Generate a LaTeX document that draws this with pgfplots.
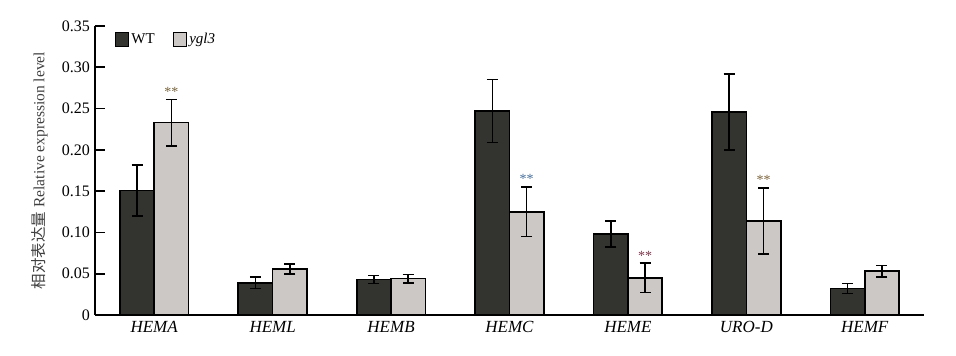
\documentclass[border=0pt]{standalone}
\usepackage{pgfplots}
\pgfplotsset{compat=1.18}
\usepackage{fontspec}
\setmainfont{Liberation Serif}
\newfontfamily\cjk{Noto Sans CJK SC}
\definecolor{wtc}{RGB}{51,51,48}
\definecolor{ygc}{RGB}{204,200,197}
\definecolor{astA}{RGB}{120,100,60}
\definecolor{astC}{RGB}{70,110,155}
\definecolor{astE}{RGB}{125,55,75}
\definecolor{astD}{RGB}{125,100,60}
\begin{document}
\fontsize{15bp}{17bp}\selectfont
\begin{tikzpicture}
\begin{axis}[
  scale only axis,
  width=829bp, height=289bp,
  xmin=-0.5, xmax=6.5,
  ymin=0, ymax=0.35,
  axis x line*=bottom, axis y line*=left,
  axis line style={line width=1.8bp},
  ytick={0,0.05,0.10,0.15,0.20,0.25,0.30,0.35},
  yticklabels={0,0.05,0.10,0.15,0.20,0.25,0.30,0.35},
  y tick label style={font=\fontsize{16bp}{18bp}\selectfont},
  xtick={0,1,2,3,4,5,6},
  xticklabels={\textit{HEMA},\textit{HEML},\textit{HEMB},\textit{HEMC},\textit{HEME},\textit{URO-D},\textit{HEMF}},
  x tick label style={font=\fontsize{17bp}{19bp}\selectfont, yshift=-1bp},
  major x tick style={draw=none},
  extra x ticks={0.5,1.5,2.5,3.5,4.5,5.5,6.5},
  extra x tick labels={},
  extra x tick style={major tick length=10bp, tick style={line width=1.8bp, black}},
  tick align=inside,
  major tick length=10bp,
  tick style={line width=1.8bp, black},
  ylabel={{\cjk 相对表达量} Relative expression level},
  ylabel style={font=\fontsize{15.5bp}{17bp}\selectfont, color=black!75, yshift=4bp},
  legend style={at={(rel axis cs:0.02,0.99)}, anchor=north west, draw=none, fill=none,
    font=\fontsize{15bp}{17bp}\selectfont, legend columns=2,
    /tikz/every even column/.append style={column sep=16bp}},
  legend cell align=left,
  /pgf/number format/assume math mode=true,
  clip=false,
]
\addplot[ybar, bar width=0.29, bar shift=0, fill=wtc, draw=black, line width=1.6bp,
  legend image code/.code={\draw[fill=wtc, draw=black, line width=1.6bp] (-4bp,-7bp) rectangle (9bp,7bp);},
  error bars/.cd, y dir=both, y explicit,
  error bar style={line width=1.6bp, black},
  error mark options={rotate=90, mark size=5.5bp, line width=1.6bp, black}]
coordinates {
 (-0.145,0.151) +- (0,0.031)
 (0.855,0.039) +- (0,0.007)
 (1.855,0.043) +- (0,0.005)
 (2.855,0.247) +- (0,0.038)
 (3.855,0.098) +- (0,0.016)
 (4.855,0.246) +- (0,0.046)
 (5.855,0.032) +- (0,0.006)
};
\addlegendentry{WT}
\addplot[ybar, bar width=0.29, bar shift=0, fill=ygc, draw=black, line width=1.6bp,
  legend image code/.code={\draw[fill=ygc, draw=black, line width=1.6bp] (-4bp,-7bp) rectangle (9bp,7bp);},
  error bars/.cd, y dir=both, y explicit,
  error bar style={line width=1.6bp, black},
  error mark options={rotate=90, mark size=5.5bp, line width=1.6bp, black}]
coordinates {
 (0.145,0.233) +- (0,0.028)
 (1.145,0.056) +- (0,0.006)
 (2.145,0.044) +- (0,0.005)
 (3.145,0.125) +- (0,0.030)
 (4.145,0.045) +- (0,0.018)
 (5.145,0.114) +- (0,0.040)
 (6.145,0.053) +- (0,0.007)
};
\addlegendentry{\textit{ygl3}}
\node[anchor=south, text=astA, font=\fontsize{14bp}{14bp}\selectfont, inner sep=1bp] at (axis cs:0.145,0.263) {**};
\node[anchor=south, text=astC, font=\fontsize{14bp}{14bp}\selectfont, inner sep=1bp] at (axis cs:3.145,0.158) {**};
\node[anchor=south, text=astE, font=\fontsize{14bp}{14bp}\selectfont, inner sep=1bp] at (axis cs:4.145,0.065) {**};
\node[anchor=south, text=astD, font=\fontsize{14bp}{14bp}\selectfont, inner sep=1bp] at (axis cs:5.145,0.157) {**};
\end{axis}
\path (current axis.south west) ++(-95bp,-41bp) coordinate (bbA);
\path (current axis.north east) ++(32bp,26bp) coordinate (bbB);
\path (bbA) rectangle (bbB);
\end{tikzpicture}
\end{document}
